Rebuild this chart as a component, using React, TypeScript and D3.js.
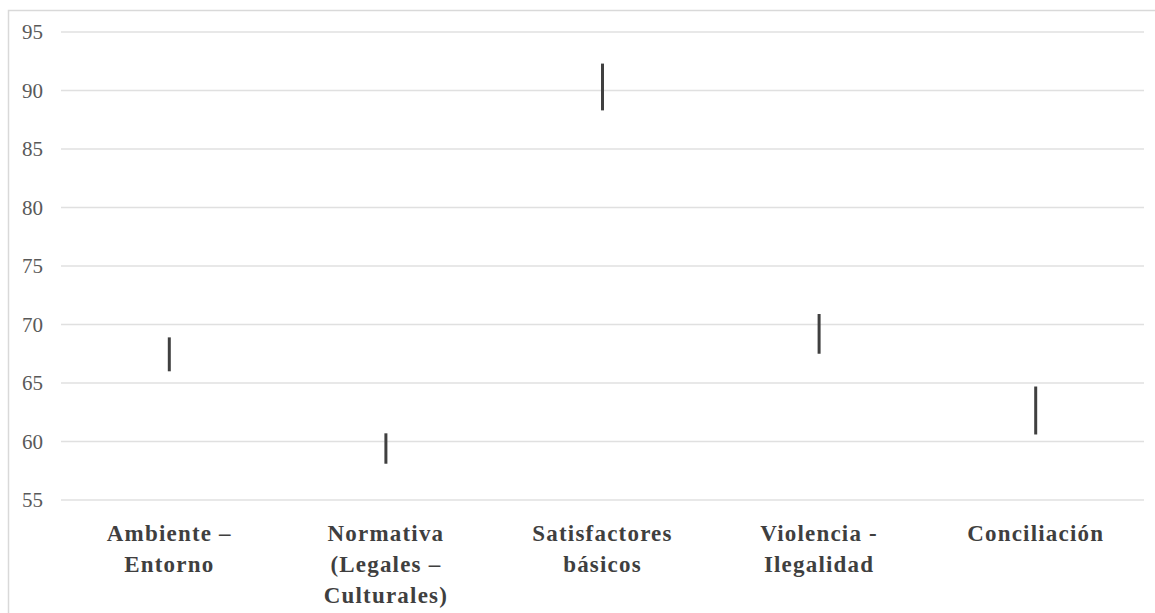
import React from "react";
import * as d3 from "d3";

const categories: string[][] = [
  ["Ambiente –", "Entorno"],
  ["Normativa", "(Legales –", "Culturales)"],
  ["Satisfactores", "básicos"],
  ["Violencia -", "Ilegalidad"],
  ["Conciliación"],
];
const highValues = [68.9, 60.7, 92.3, 70.9, 64.7];
const lowValues = [66.0, 58.1, 88.3, 67.5, 60.6];
const yTicks = [55, 60, 65, 70, 75, 80, 85, 90, 95];

export default function App() {
  const W = 1155;
  const H = 613;
  const keys = categories.map((c) => c.join(" "));
  const x = d3.scaleBand<string>().domain(keys).range([61, 1144]);
  const y = d3.scaleLinear().domain([55, 95]).range([500, 32]);
  const font = "'Liberation Serif', 'Times New Roman', serif";

  return (
    <svg
      width={W}
      height={H}
      style={{ position: "absolute", left: 0, top: 0, background: "#fff" }}
    >
      <rect x={8.5} y={10.5} width={1200} height={700} fill="#fff" stroke="#d9d9d9" strokeWidth={1.5} />
      {yTicks.map((t) => (
        <g key={t}>
          <line x1={61} x2={1144} y1={y(t)} y2={y(t)} stroke="#e0e0e0" strokeWidth={1.5} />
          <text
            x={43}
            y={y(t) + 7}
            textAnchor="end"
            style={{ fontFamily: font, fontSize: 21 }}
            fill="#595959"
          >
            {t}
          </text>
        </g>
      ))}
      {keys.map((k, i) => {
        const cx = (x(k) ?? 0) + x.bandwidth() / 2;
        return (
          <line
            key={k}
            x1={cx}
            x2={cx}
            y1={y(lowValues[i])}
            y2={y(highValues[i])}
            stroke="#404040"
            strokeWidth={3}
          />
        );
      })}
      {categories.map((lines, i) => {
        const cx = (x(keys[i]) ?? 0) + x.bandwidth() / 2;
        return (
          <text
            key={i}
            textAnchor="middle"
            style={{ fontFamily: font, fontSize: 23, fontWeight: 700, letterSpacing: 1.2 }}
            fill="#3f3f3f"
          >
            {lines.map((l, j) => (
              <tspan key={j} x={cx} y={541 + j * 31}>
                {l}
              </tspan>
            ))}
          </text>
        );
      })}
    </svg>
  );
}
